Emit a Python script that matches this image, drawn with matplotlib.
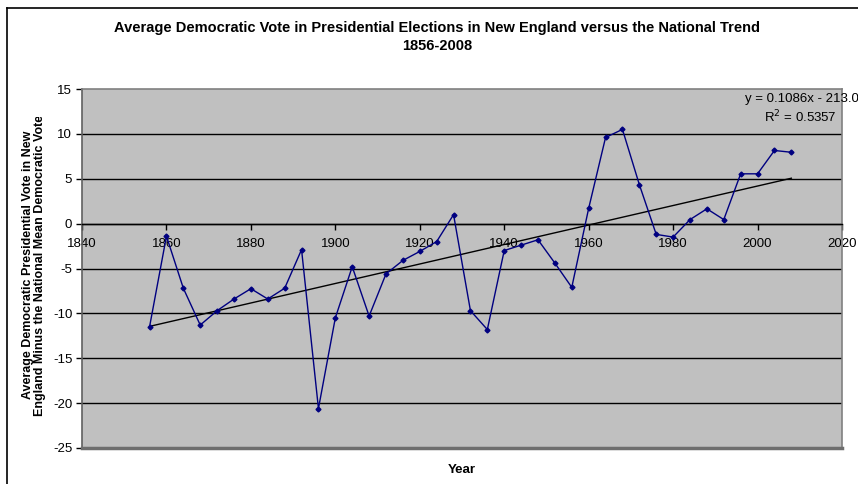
import matplotlib
matplotlib.use("Agg")
import matplotlib.pyplot as plt
from matplotlib.transforms import Bbox
import numpy as np

plt.rcParams["font.family"] = ["Liberation Sans", "DejaVu Sans"]
plt.rcParams["axes.unicode_minus"] = False

# --- Data: New England average Democratic vote minus national mean ---
years = [1856, 1860, 1864, 1868, 1872, 1876, 1880, 1884, 1888, 1892,
         1896, 1900, 1904, 1908, 1912, 1916, 1920, 1924, 1928, 1932,
         1936, 1940, 1944, 1948, 1952, 1956, 1960, 1964, 1968, 1972,
         1976, 1980, 1984, 1988, 1992, 1996, 2000, 2004, 2008]
diff = [-11.5, -1.4, -7.2, -11.3, -9.7, -8.4, -7.25, -8.4, -7.2, -2.9,
        -20.6, -10.5, -4.8, -10.3, -5.6, -4.1, -3.1, -2.0, 1.0, -9.7,
        -11.8, -3.0, -2.4, -1.8, -4.4, -7.1, 1.7, 9.6, 10.5, 4.35,
        -1.2, -1.5, 0.45, 1.65, 0.45, 5.55, 5.55, 8.15, 7.95]

# linear trend as reported on the chart
slope = 0.1086
intercept = -213.01
r_squared = 0.5357

W, H = 858, 484
fig = plt.figure(figsize=(W / 100, H / 100), dpi=100)


def fx(px):
    return px / W


def fy(py):
    return 1 - py / H


# outer chart frame (only left and top edges are inside the image)
fig.add_artist(plt.Line2D([fx(7), fx(7)], [0, fy(8)], color="black", lw=1.2))
fig.add_artist(plt.Line2D([fx(7), 1], [fy(8), fy(8)], color="black", lw=1.2))

left, right, top, bottom = 82, 842, 89, 448
ax = fig.add_axes([fx(left), fy(bottom), (right - left) / W, (bottom - top) / H])
ax.set_facecolor("#C0C0C0")
ax.set_xlim(1840, 2020)
ax.set_ylim(-25, 15)

# horizontal gridlines
for yv in range(-20, 15, 5):
    ax.axhline(yv, color="black", lw=1.0, zorder=1)

# plot area border
for side in ["top", "right", "left"]:
    ax.spines[side].set_color("#808080")
    ax.spines[side].set_linewidth(1.2)
ax.spines["left"].set_color("#606060")
ax.axhline(-25, color="#6E6E6E", lw=2.5, zorder=3, clip_on=False)

# x axis crosses at zero
ax.spines["bottom"].set_position(("data", 0))
ax.spines["bottom"].set_color("black")
ax.spines["bottom"].set_linewidth(1.0)

ax.set_xticks(np.arange(1840, 2021, 20))
ax.set_yticks(np.arange(-25, 16, 5))
ax.tick_params(axis="x", direction="out", length=4, width=1, pad=6,
               labelsize=9.5, colors="black")
ax.tick_params(axis="y", direction="out", length=4, width=1, pad=3,
               labelsize=9.5, colors="black")
for lab in ax.get_xticklabels():
    lab.set_zorder(4)

# series and trendline
ax.plot(years, diff, color="#000080", lw=1.0, marker="D", markersize=2.5,
        markerfacecolor="#000080", markeredgecolor="#000080", zorder=5)
tx = np.array([years[0], years[-1]])
ax.plot(tx, slope * tx + intercept, color="black", lw=1.0, zorder=4)

# trendline equation
fig.text(fx(745), fy(99), "y = %.4fx - %.2f" % (slope, -intercept),
         ha="left", va="center", fontsize=9.5)
fig.text(fx(837), fy(117), "R$^2$ = %.4f" % r_squared,
         ha="right", va="center", fontsize=9.5)

# titles and axis labels
fig.text(fx(437), fy(28), "Average Democratic Vote in Presidential Elections in New England versus the National Trend",
         ha="center", va="center", fontsize=10.5, fontweight="bold")
fig.text(fx(437), fy(46), "1856-2008", ha="center", va="center",
         fontsize=10.5, fontweight="bold")
fig.text(fx(462), fy(470), "Year", ha="center", va="center",
         fontsize=9.5, fontweight="bold")

ylab = fig.text(fx(34), fy(265),
                "Average Democratic Presidential Vote in New\nEngland Minus the National Mean Democratic Vote",
                ha="center", va="center", rotation=90, fontsize=9,
                fontweight="bold", multialignment="center", linespacing=1.05)
ylab.set_clip_box(Bbox.from_extents(0, 0, 60, H - 117))

fig.savefig("out.png", dpi=100)
